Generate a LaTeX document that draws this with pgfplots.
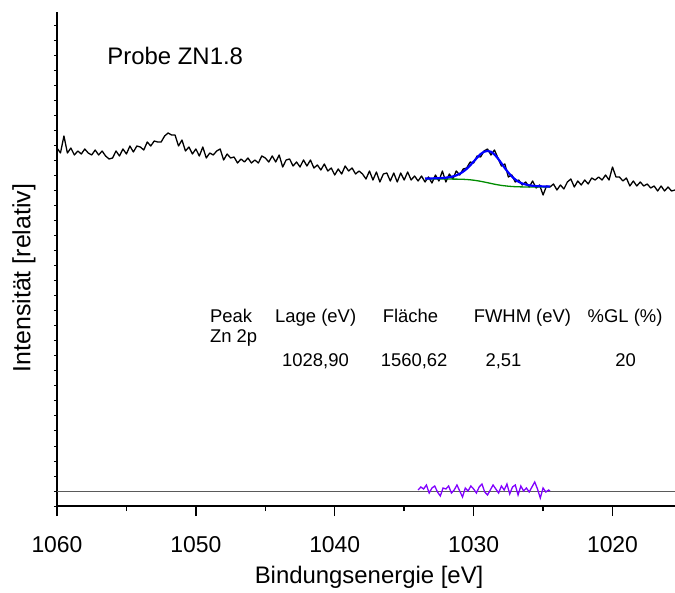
\documentclass[border=0pt]{standalone}
\usepackage{pgfplots}
\pgfplotsset{compat=1.18}
\usepackage{fontspec}
\setmainfont{Liberation Sans}
\definecolor{fitblue}{RGB}{0,0,255}
\definecolor{bggreen}{RGB}{0,140,0}
\definecolor{resviolet}{RGB}{128,0,255}
\begin{document}
\begin{tikzpicture}
\path[use as bounding box] (-57bp,-87bp) rectangle (618bp,506bp);
\begin{axis}[
  scale only axis, width=618bp, height=494bp,
  at={(0,0)}, anchor=south west,
  xmin=1015.5, xmax=1060, ymin=0, ymax=494,
  x dir=reverse,
  axis x line*=bottom, axis y line*=left,
  axis line style={line width=1.4bp, -},
  xtick={1020,1030,1040,1050,1060},
  minor x tick num=1,
  ytick distance=15, yticklabels={},
  tick align=outside,
  major tick length=10bp, minor tick length=5bp,
  xtick style={line width=1.4bp, black},
  ytick style={/pgfplots/major tick length=3bp, line width=1bp, black},
  /pgf/number format/assume math mode=true,
  /pgf/number format/1000 sep={},
  xticklabel style={font=\fontsize{23}{27}\selectfont, yshift=-17bp},
  xlabel={Bindungsenergie [eV]},
  ylabel={Intensität [relativ]},
  every axis x label/.style={at={(axis description cs:0.505,-0.1437)}, anchor=center, font=\fontsize{24}{29}\selectfont},
  every axis y label/.style={at={(axis description cs:-0.0534,0.4615)}, rotate=90, anchor=center, font=\fontsize{25}{30}\selectfont},
  clip=false,
]
% zero line of residual
\addplot[color={rgb,255:red,90;green,90;blue,90}, line width=0.8bp] coordinates {(1060,15) (1015.5,15)};
% measured spectrum
\addplot[black, line width=1.3bp, line join=round] coordinates {
(1060.00,358)(1059.75,353)(1059.50,370)(1059.25,353)(1059.00,358)(1058.75,351)(1058.50,355)(1058.25,352)
(1058.00,357)(1057.75,353)(1057.50,351)(1057.25,356)(1057.00,351)(1056.75,355)(1056.50,350)(1056.25,347)
(1056.00,348)(1055.75,355)(1055.50,350)(1055.25,357)(1055.00,352)(1054.75,360)(1054.50,354)(1054.25,360)
(1054.00,359)(1053.75,356)(1053.50,364)(1053.25,360)(1053.00,365)(1052.75,364)(1052.50,364)(1052.25,370)
(1052.00,373)(1051.75,371)(1051.50,371)(1051.25,360)(1051.00,366)(1050.75,355)(1050.50,359)(1050.25,352)
(1050.00,357)(1049.75,350)(1049.50,359)(1049.25,348)(1049.00,353)(1048.75,351)(1048.50,355)(1048.25,357)
(1048.00,346)(1047.75,352)(1047.50,348)(1047.25,349)(1047.00,343)(1046.75,347)(1046.50,344)(1046.25,348)
(1046.00,343)(1045.75,346)(1045.50,343)(1045.25,350)(1045.00,348)(1044.75,344)(1044.50,350)(1044.25,344)
(1044.00,351)(1043.75,339)(1043.50,346)(1043.25,347)(1043.00,340)(1042.75,344)(1042.50,339)(1042.25,346)
(1042.00,340)(1041.75,346)(1041.50,338)(1041.25,341)(1041.00,336)(1040.75,342)(1040.50,335)(1040.25,338)
(1040.00,331)(1039.75,337)(1039.50,332)(1039.25,340)(1039.00,335)(1038.75,338)(1038.50,332)(1038.25,335)
(1038.00,332)(1037.75,327)(1037.50,335)(1037.25,326)(1037.00,334)(1036.75,324)(1036.50,332)(1036.25,333)
(1036.00,325)(1035.75,333)(1035.50,324)(1035.25,333)(1035.00,326)(1034.75,334)(1034.50,326)(1034.25,330)
(1034.00,325)(1033.75,330)(1033.50,324)(1033.25,329)(1033.00,323)(1032.75,331)(1032.50,325)(1032.25,335)
(1032.00,324)(1031.75,332)(1031.50,327)(1031.25,335)(1031.00,331)(1030.75,337)(1030.50,338)(1030.25,344)
(1030.00,343)(1029.75,350)(1029.50,349)(1029.25,355)(1029.00,357)(1028.75,351)(1028.50,356)(1028.25,348)
(1028.00,340)(1027.75,342)(1027.50,329)(1027.25,331)(1027.00,324)(1026.75,326)(1026.50,321)(1026.25,324)
(1026.00,319)(1025.75,325)(1025.50,318)(1025.25,321)(1025.00,311)(1024.75,320)(1024.50,319)(1024.25,322)
(1024.00,316)(1023.75,321)(1023.50,317)(1023.25,324)(1023.00,327)(1022.75,319)(1022.50,325)(1022.25,321)
(1022.00,326)(1021.75,322)(1021.50,328)(1021.25,326)(1021.00,329)(1020.75,326)(1020.50,331)(1020.25,326)
(1020.00,339)(1019.75,329)(1019.50,329)(1019.25,325)(1019.00,328)(1018.75,320)(1018.50,325)(1018.25,320)
(1018.00,324)(1017.75,320)(1017.50,322)(1017.25,318)(1017.00,320)(1016.75,315)(1016.50,320)(1016.25,315)
(1016.00,319)(1015.75,315)(1015.50,316)
};
% Shirley background
\addplot[bggreen, line width=1.3bp, smooth] coordinates {
(1033.50,327.0)(1032.50,327.0)(1031.50,326.9)(1031.00,326.8)(1030.50,326.5)(1030.00,325.8)(1029.50,324.7)
(1029.00,323.3)(1028.50,321.8)(1028.00,320.6)(1027.50,319.8)(1027.00,319.3)(1026.50,319.1)(1025.50,319.0)(1024.50,319.0)
};
% fit envelope
\addplot[fitblue, line width=2.2bp, smooth] coordinates {
(1033.50,327.4)(1033.00,327.6)(1032.50,327.8)(1032.00,328.3)(1031.50,329.5)(1031.25,330.6)(1031.00,332.2)
(1030.75,334.4)(1030.50,337.2)(1030.25,340.6)(1030.00,344.4)(1029.75,348.3)(1029.50,351.8)(1029.25,354.2)
(1029.00,355.1)(1028.75,354.2)(1028.50,351.5)(1028.25,347.5)(1028.00,342.7)(1027.75,337.9)(1027.50,333.4)
(1027.25,329.6)(1027.00,326.5)(1026.75,324.1)(1026.50,322.5)(1026.00,320.7)(1025.50,319.9)(1025.00,319.6)(1024.50,319.5)
};
% residual
\addplot[resviolet, line width=1.3bp] coordinates {
(1034.0,16)(1033.8,19)(1033.6,17)(1033.4,21)(1033.2,13)(1033.0,18)(1032.8,20)(1032.6,14)(1032.4,10)(1032.2,18)
(1032.0,17)(1031.8,20)(1031.6,13)(1031.4,16)(1031.2,21)(1031.0,15)(1030.8,9)(1030.6,18)(1030.4,15)(1030.2,20)
(1030.0,17)(1029.8,13)(1029.6,19)(1029.4,22)(1029.2,14)(1029.0,11)(1028.8,16)(1028.6,21)(1028.4,17)(1028.2,13)
(1028.0,20)(1027.8,16)(1027.6,22)(1027.4,12)(1027.2,19)(1027.0,21)(1026.8,11)(1026.6,20)(1026.4,15)(1026.2,18)
(1026.0,14)(1025.8,19)(1025.6,24)(1025.4,17)(1025.2,8)(1025.0,18)(1024.8,14)(1024.6,16)(1024.5,15)
};
% annotations
\node[anchor=base west, inner sep=0, font=\fontsize{24}{29}\selectfont] at (axis cs:1056.38,441) {Probe ZN1.8};
\begin{scope}[every node/.style={anchor=base west, inner sep=0, font=\fontsize{18.5}{22}\selectfont}]
\node at (axis cs:1048.99,183) {Peak};
\node at (axis cs:1048.99,163) {Zn 2p};
\node at (axis cs:1044.30,183) {Lage (eV)};
\node at (axis cs:1036.55,183) {Fläche};
\node at (axis cs:1030.00,183) {FWHM (eV)};
\node at (axis cs:1021.80,183) {\%GL (\%)};
\node at (axis cs:1043.80,139) {1028,90};
\node at (axis cs:1036.70,139) {1560,62};
\node at (axis cs:1029.15,139) {2,51};
\node at (axis cs:1019.80,139) {20};
\end{scope}
\end{axis}
\end{tikzpicture}
\end{document}
